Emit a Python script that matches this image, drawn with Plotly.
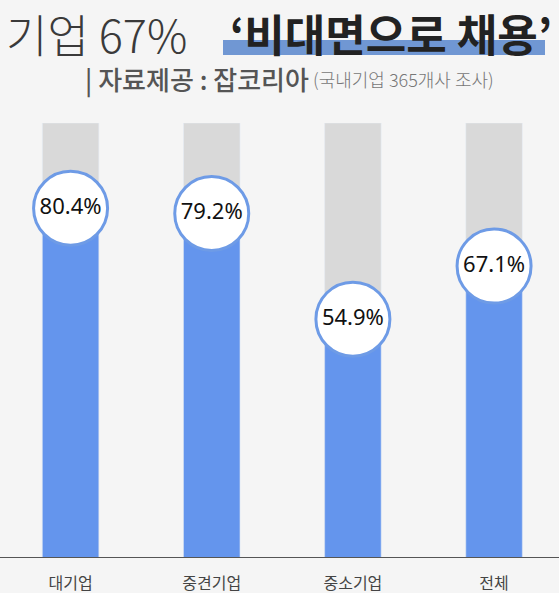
import plotly.graph_objects as go

categories = ["대기업", "중견기업", "중소기업", "전체"]
values = [80.4, 79.2, 54.9, 67.1]
full = [100, 100, 100, 100]
labels = ["80.4%", "79.2%", "54.9%", "67.1%"]

W, H = 559, 593
T, B = 123, 35
PH = H - T - B


def py(p):
    # pixel row -> paper y
    return (H - B - p) / PH


def px(p):
    return p / W


KR = "Noto Sans CJK KR"

fig = go.Figure()
fig.add_bar(x=categories, y=full, marker_color="#d9d9d9", width=0.4,
            hoverinfo="skip")
fig.add_bar(x=categories, y=values, marker_color="#6495ed", width=0.4)
fig.add_scatter(x=categories, y=values, mode="markers+text", text=labels,
                textposition="middle center",
                textfont=dict(family="Noto Sans", size=22, color="#111"),
                marker=dict(size=74, color="white",
                            line=dict(color="#6e9be6", width=3)),
                cliponaxis=False)

# blue highlight under the title
fig.add_shape(type="rect", xref="paper", yref="paper",
              x0=px(223), x1=px(545), y0=py(55), y1=py(40),
              fillcolor="#7097d3", line_width=0, layer="below")
# baseline
fig.add_shape(type="line", xref="paper", yref="y", x0=0, x1=1, y0=0, y1=0,
              line=dict(color="#555", width=2))

fig.add_annotation(text="기업 67%", xref="paper", yref="paper",
                   x=px(4), y=py(33), xanchor="left", yanchor="middle",
                   showarrow=False,
                   font=dict(family=KR, size=45, color="#3a3a3a", weight=300))
fig.add_annotation(text="‘비대면으로 채용’", xref="paper", yref="paper",
                   x=px(554), y=py(33), xanchor="right", yanchor="middle",
                   showarrow=False,
                   font=dict(family=KR, size=44, color="#222", weight=700))
fig.add_annotation(text="| 자료제공 : 잡코리아", xref="paper", yref="paper",
                   x=px(311), y=py(79), xanchor="right", yanchor="middle",
                   showarrow=False,
                   font=dict(family=KR, size=26, color="#555", weight=500))
fig.add_annotation(text="(국내기업 365개사 조사)", xref="paper", yref="paper",
                   x=px(311), y=py(79), xanchor="left", yanchor="middle",
                   showarrow=False,
                   font=dict(family=KR, size=18, color="#777", weight=300))

fig.update_layout(
    width=W, height=H,
    margin=dict(l=0, r=0, t=T, b=B),
    paper_bgcolor="#f5f5f5", plot_bgcolor="#f5f5f5",
    barmode="overlay", showlegend=False,
    xaxis=dict(range=[-0.5, 3.46], showgrid=False, zeroline=False,
               showline=False, ticks="", ticklabelstandoff=14,
               tickfont=dict(family=KR, size=16, color="#444")),
    yaxis=dict(range=[0, 100], visible=False),
)

fig.write_html("out.html", config={"displayModeBar": False},
               post_script="document.body.style.margin='0';")
